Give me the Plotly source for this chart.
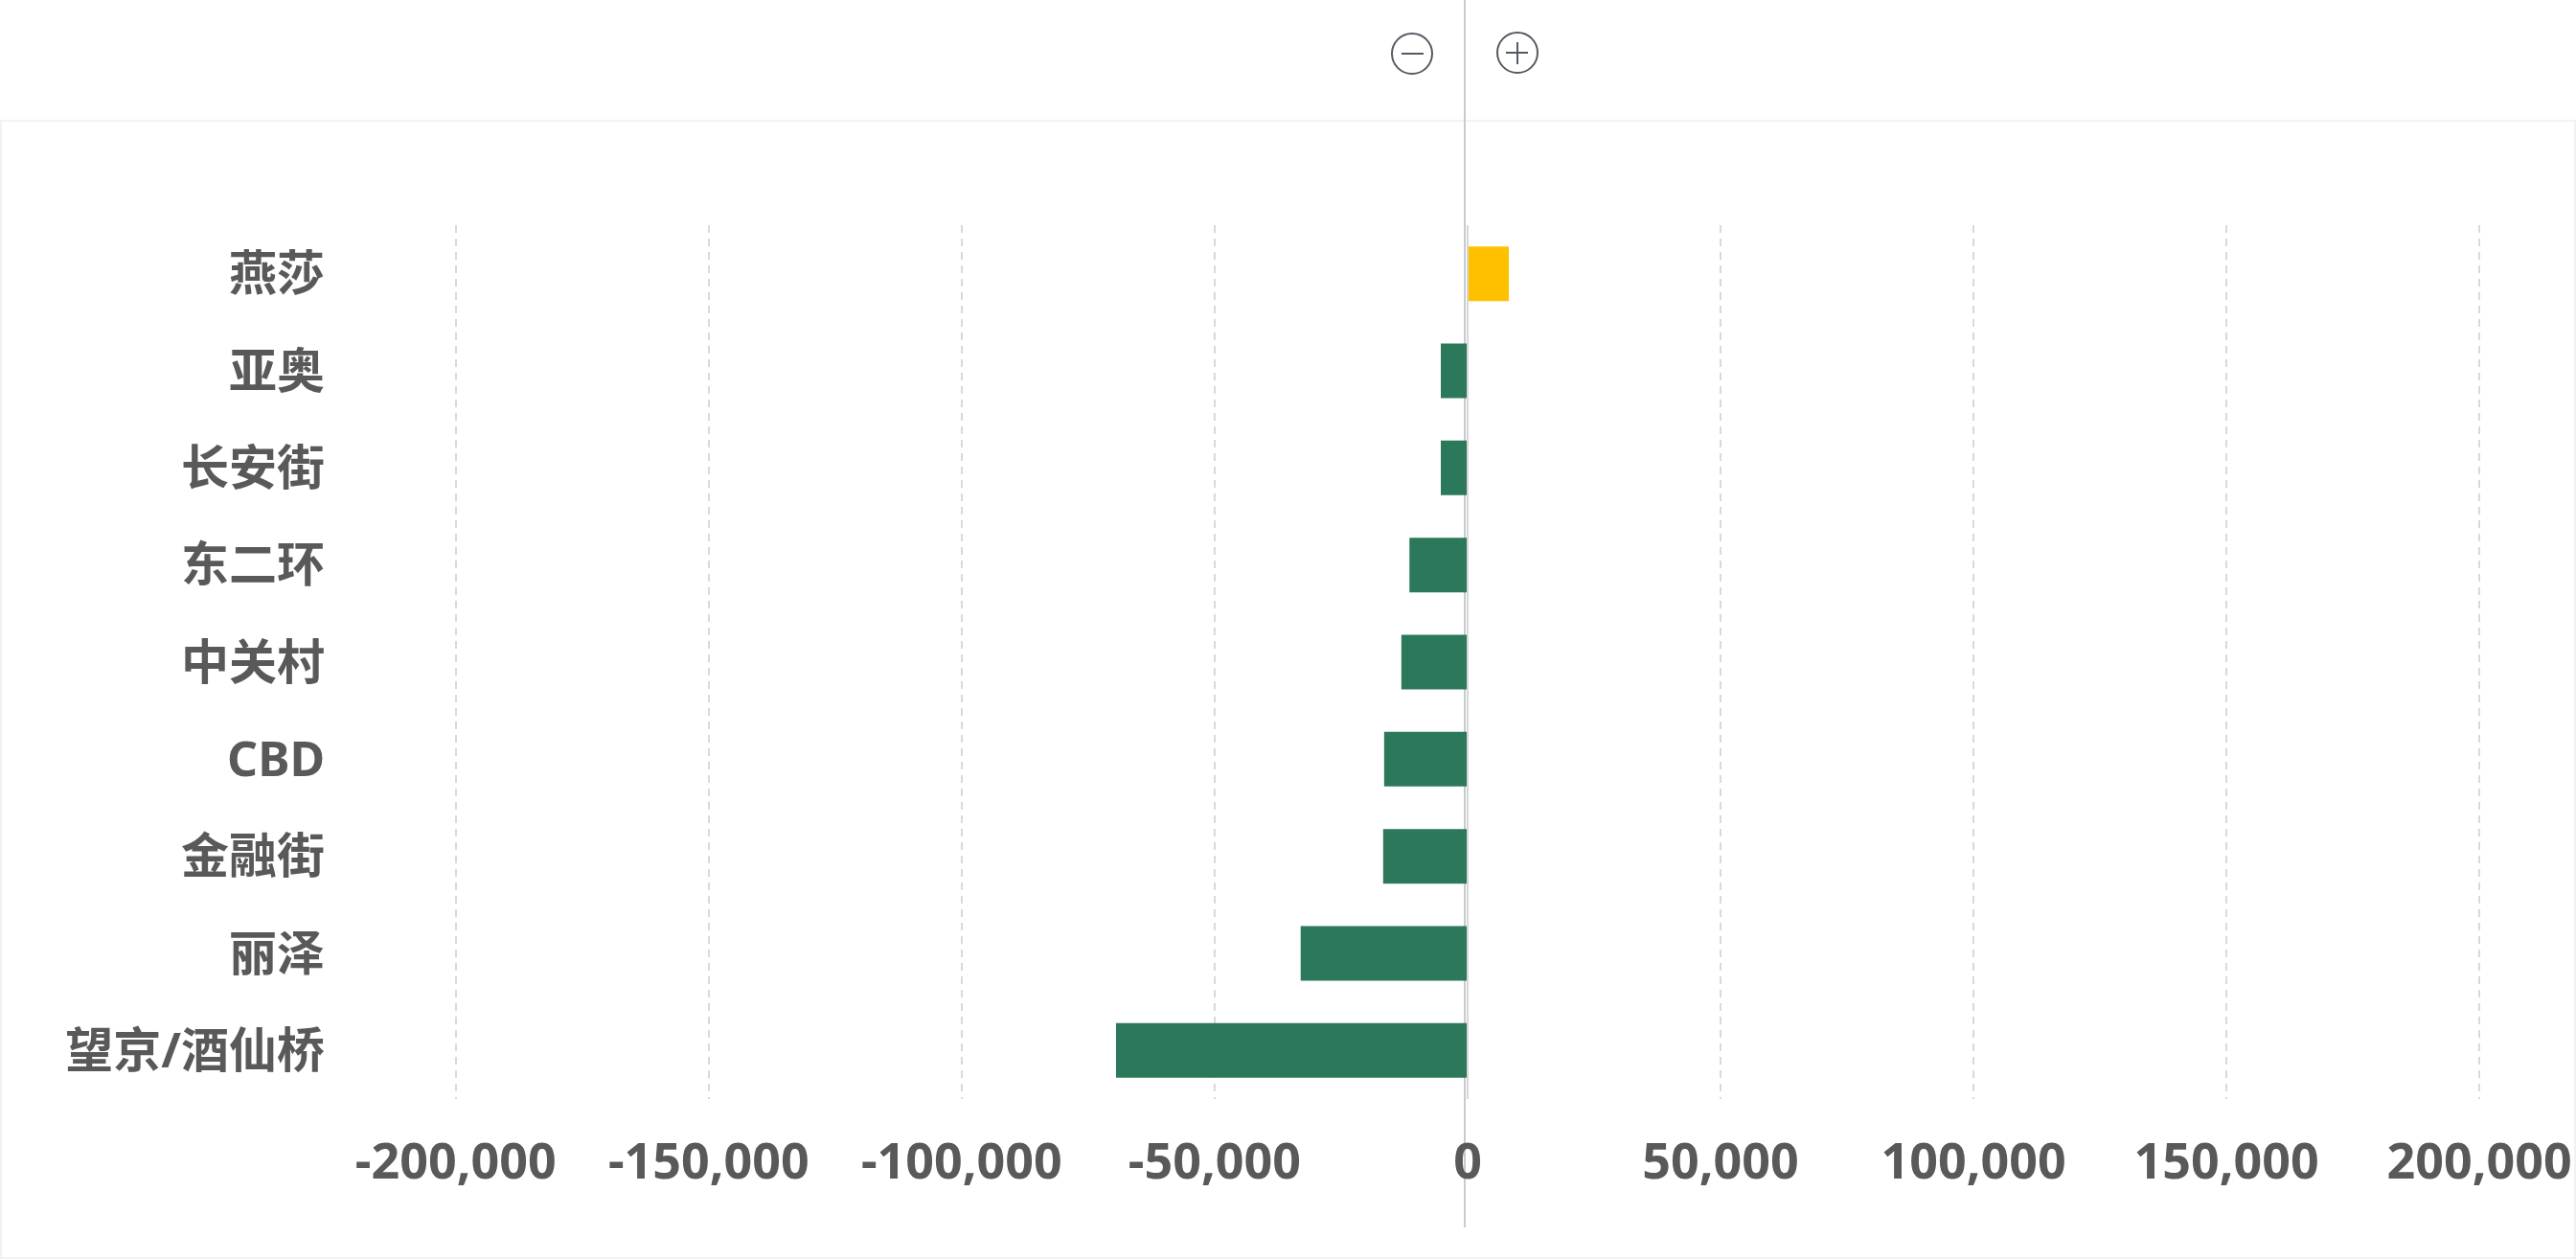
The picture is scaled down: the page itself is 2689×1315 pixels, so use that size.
import plotly.graph_objects as go

categories = ["燕莎", "亚奥", "长安街", "东二环", "中关村", "CBD", "金融街", "丽泽", "望京/酒仙桥"]
values = [8150, -5300, -5300, -11500, -13100, -16500, -16700, -33000, -69500]
colors = ["#FFC000" if v > 0 else "#2C785A" for v in values]
tick_vals = [-200000, -150000, -100000, -50000, 0, 50000, 100000, 150000, 200000]
tick_text = ["-200,000", "-150,000", "-100,000", "-50,000", "0", "50,000", "100,000", "150,000", "200,000"]

W, H = 2689, 1315
L, R, T, B = 423, 2641, 235, 1147
FAMILY = "Noto Sans, Noto Sans CJK SC"
X_FONT = dict(family=FAMILY, size=52, color="#595959", weight=700)
Y_FONT = dict(family=FAMILY, size=50, color="#595959", weight=700)


def px(x):
    # page pixel to plot-area fraction
    return (x - L) / (R - L)


def py(y):
    return (B - y) / (B - T)


fig = go.Figure(go.Bar(x=values, y=categories, orientation="h",
                       marker=dict(color=colors, line=dict(width=0)),
                       hoverinfo="x+y"))

ICON = dict(color="#555B63", width=2)
shapes = [
    # outer panel frame
    dict(type="rect", xref="paper", yref="paper", x0=px(1), x1=px(2688), y0=py(1313), y1=py(126),
         line=dict(color="#F2F2F2", width=2), layer="below"),
    # divider, passes behind the bars
    dict(type="line", xref="paper", yref="paper", x0=px(1529), x1=px(1529), y0=py(0), y1=py(1281),
         line=dict(color="#C6CAD1", width=2), layer="below"),
    # zero line on data axis
    dict(type="line", xref="x", yref="paper", x0=0, x1=0, y0=0, y1=1,
         line=dict(color="#D6D6D6", width=2), layer="above"),
    # minus icon
    dict(type="circle", xref="paper", yref="paper", x0=px(1453), x1=px(1495), y0=py(77), y1=py(35), line=ICON),
    dict(type="line", xref="paper", yref="paper", x0=px(1463), x1=px(1486), y0=py(56), y1=py(56), line=ICON),
    # plus icon
    dict(type="circle", xref="paper", yref="paper", x0=px(1563), x1=px(1605), y0=py(76), y1=py(34), line=ICON),
    dict(type="line", xref="paper", yref="paper", x0=px(1572), x1=px(1595), y0=py(55), y1=py(55), line=ICON),
    dict(type="line", xref="paper", yref="paper", x0=px(1584), x1=px(1584), y0=py(44), y1=py(67), line=ICON),
]

fig.update_layout(
    width=W, height=H, autosize=False,
    margin=dict(l=L, r=W - R, t=T, b=H - B, pad=0),
    paper_bgcolor="white", plot_bgcolor="rgba(0,0,0,0)",
    showlegend=False, bargap=0.4375, shapes=shapes,
    xaxis=dict(range=[-210000, 210000], tickmode="array", tickvals=tick_vals, ticktext=tick_text,
               showgrid=True, gridcolor="#D9D9D9", gridwidth=2, griddash="8px,6px",
               zeroline=False, showline=False, ticks="", tickfont=X_FONT, ticklabelstandoff=30,
               automargin=False),
    yaxis=dict(categoryorder="array", categoryarray=categories, autorange="reversed",
               showgrid=False, zeroline=False, showline=False, ticks="", tickfont=Y_FONT,
               ticklabelstandoff=83, automargin=False),
)
fig.write_html("out.html", config=dict(displayModeBar=False),
               post_script="document.body.style.margin='0';document.body.style.overflow='hidden';")
